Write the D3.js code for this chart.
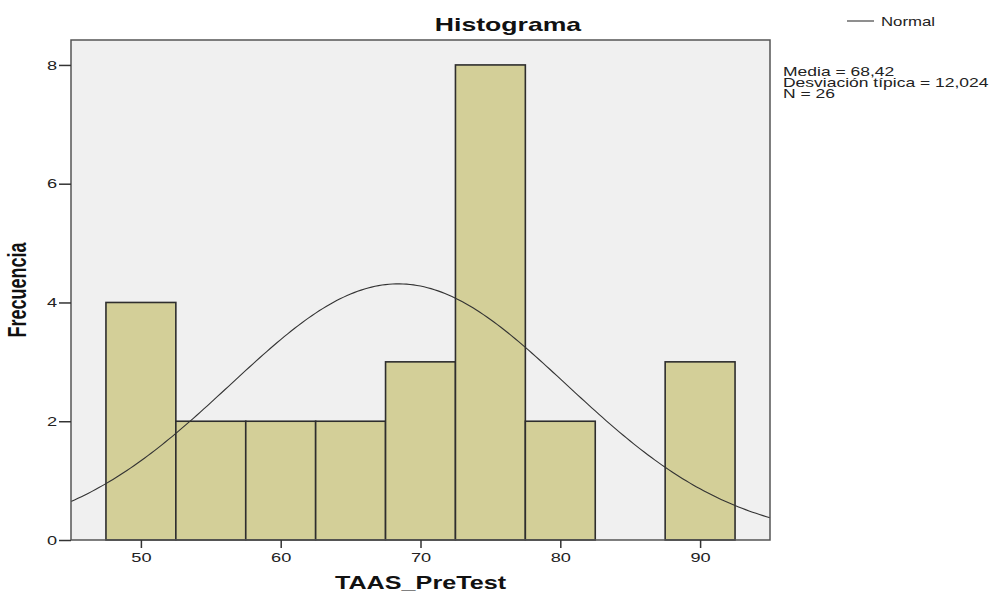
<!DOCTYPE html>
<html>
<head>
<meta charset="utf-8">
<script src="https://cdn.jsdelivr.net/npm/d3@7"></script>
<style>
  body { margin: 0; background: #fff; }
  text { font-family: "Liberation Sans", Arial, sans-serif; }
</style>
</head>
<body>
<div id="chart"></div>
<script>
// histogram data
var binStarts = [47.5, 52.5, 57.5, 62.5, 67.5, 72.5, 77.5, 82.5, 87.5];
var binCounts = [4, 2, 2, 2, 3, 8, 2, 0, 3];
var binWidth = 5;
var xTicks = [50, 60, 70, 80, 90];
var yTicks = [0, 2, 4, 6, 8];
var mean = 68.42;
var stdDev = 12.024;
var n = 26;
var statLines = ["Media = 68,42", "Desviación típica = 12,024", "N = 26"];

var W = 998, H = 595;
var sx = 1.4; // the picture is stretched horizontally
var plotLeft = 71, plotRight = 770, plotTop = 40, plotBottom = 540;

var svg = d3.select("#chart")
  .append("svg")
  .attr("width", W)
  .attr("height", H);

var x = d3.scaleLinear().domain([45, 95]).range([plotLeft, plotRight]);
var y = d3.scaleLinear().domain([0, 8.42]).range([plotBottom, plotTop]);

// plot background
svg.append("rect")
  .attr("x", plotLeft)
  .attr("y", plotTop)
  .attr("width", plotRight - plotLeft)
  .attr("height", plotBottom - plotTop)
  .attr("fill", "#f0f0f0");

// bars
svg.append("g")
  .selectAll("rect")
  .data(binStarts.map(function(s, i) { return { start: s, count: binCounts[i] }; })
    .filter(function(d) { return d.count > 0; }))
  .enter()
  .append("rect")
  .attr("x", function(d) { return x(d.start); })
  .attr("y", function(d) { return y(d.count); })
  .attr("width", function(d) { return x(d.start + binWidth) - x(d.start); })
  .attr("height", function(d) { return y(0) - y(d.count); })
  .attr("fill", "#d3cf98")
  .attr("stroke", "#2e2e2e")
  .attr("stroke-width", 1.6);

// normal curve from the stated mean, sd and N
var curveX = d3.range(45, 95.01, 0.25);
var curve = curveX.map(function(v) {
  var z = (v - mean) / stdDev;
  return { x: v, y: n * binWidth * Math.exp(-0.5 * z * z) / (stdDev * Math.sqrt(2 * Math.PI)) };
});

svg.append("path")
  .datum(curve)
  .attr("fill", "none")
  .attr("stroke", "#333")
  .attr("stroke-width", 1.1)
  .attr("d", d3.line()
    .x(function(d) { return x(d.x); })
    .y(function(d) { return y(d.y); })
  );

// frame
svg.append("rect")
  .attr("x", plotLeft)
  .attr("y", plotTop)
  .attr("width", plotRight - plotLeft)
  .attr("height", plotBottom - plotTop)
  .attr("fill", "none")
  .attr("stroke", "#555")
  .attr("stroke-width", 1.5);

// Y axis
var yAxis = svg.append("g")
  .attr("transform", "translate(" + plotLeft + ",0)")
  .call(d3.axisLeft(y).tickValues(yTicks).tickSize(12).tickFormat(d3.format("d")));
yAxis.select(".domain").remove();
yAxis.selectAll("line").attr("stroke", "#333").attr("stroke-width", 1.5);
yAxis.selectAll("text")
  .attr("x", -14 / sx)
  .attr("transform", "scale(" + sx + ",1)")
  .attr("fill", "#222")
  .style("font-size", "13px");

// X axis
var xAxis = svg.append("g")
  .attr("transform", "translate(0," + plotBottom + ")")
  .call(d3.axisBottom(x).tickValues(xTicks).tickSize(8).tickPadding(5));
xAxis.select(".domain").remove();
xAxis.selectAll("line").attr("stroke", "#333").attr("stroke-width", 1.5);
xAxis.selectAll("text")
  .attr("transform", "scale(" + sx + ",1)")
  .attr("fill", "#222")
  .style("font-size", "13px");

// Title
svg.append("text")
  .attr("transform", "translate(508,31) scale(" + sx + ",1)")
  .attr("text-anchor", "middle")
  .style("font-size", "19px")
  .style("font-weight", "bold")
  .attr("fill", "#111")
  .text("Histograma");

// axis titles
svg.append("text")
  .attr("transform", "translate(" + ((plotLeft + plotRight) / 2) + ",589) scale(" + sx + ",1)")
  .attr("text-anchor", "middle")
  .style("font-size", "18px")
  .style("font-weight", "bold")
  .attr("fill", "#111")
  .text("TAAS_PreTest");

svg.append("text")
  .attr("transform", "translate(26,290) scale(" + sx + ",1) rotate(-90)")
  .attr("text-anchor", "middle")
  .style("font-size", "18px")
  .style("font-weight", "bold")
  .attr("fill", "#111")
  .text("Frecuencia");

// Legend
svg.append("line")
  .attr("x1", 847).attr("x2", 874)
  .attr("y1", 21).attr("y2", 21)
  .attr("stroke", "#333").attr("stroke-width", 1.1);
svg.append("text")
  .attr("transform", "translate(881,26) scale(" + sx + ",1)")
  .style("font-size", "12px")
  .attr("fill", "#222")
  .text("Normal");

// stats
svg.append("g")
  .selectAll("text")
  .data(statLines)
  .enter()
  .append("text")
  .attr("transform", function(d, i) { return "translate(783," + (76 + i * 11) + ") scale(" + sx + ",1)"; })
  .style("font-size", "12.5px")
  .attr("fill", "#222")
  .text(function(d) { return d; });
</script>
</body>
</html>
